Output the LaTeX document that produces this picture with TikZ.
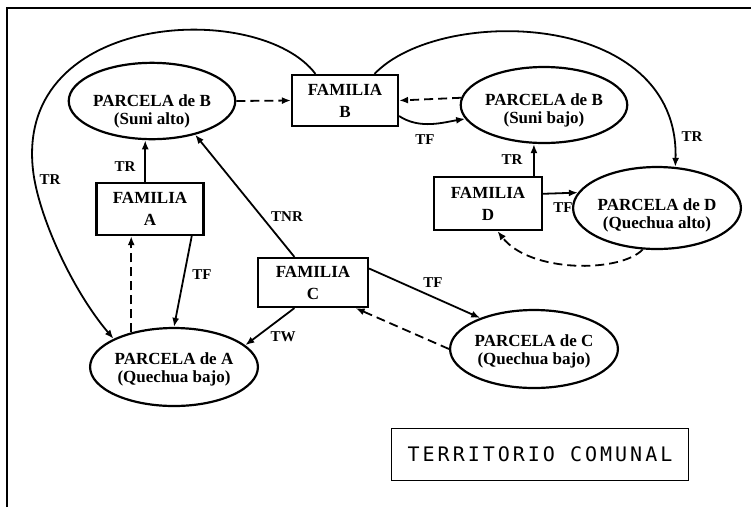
\documentclass[tikz,border=0pt]{standalone}
\usepackage{fontspec}
\setmainfont{Liberation Serif}
\newfontfamily\monofont[LetterSpace=15]{DejaVu Sans Mono}
\usetikzlibrary{shapes.geometric,arrows.meta}

\begin{document}
\begin{tikzpicture}[x=1pt,y=-1pt,line width=1.8pt,
  fam/.style={draw,line width=2.2pt,rectangle,minimum width=107pt,minimum height=52pt,inner sep=0pt,align=center,font=\bfseries\fontsize{17}{22}\selectfont},
  par/.style={draw,line width=2.2pt,ellipse,minimum width=158pt,minimum height=78pt,inner sep=0pt,align=center,text height=34pt,text depth=4pt,font=\bfseries\fontsize{17}{18}\selectfont},
  lab/.style={inner sep=1pt,font=\bfseries\fontsize{15}{15}\selectfont},
  arr/.style={-{Latex[length=9pt,width=7pt]}},
  dsh/.style={arr,dash pattern=on 9pt off 5pt}]
\useasboundingbox (0,0) rectangle (751,507);
\draw[line width=1.5pt] (7,507) -- (7,8) -- (751,8);

\node[par,minimum width=159pt,minimum height=72pt,text height=50pt] at (152,101) (pBa) {PARCELA de B\\(Suni alto)};
\node[fam,minimum width=106pt,minimum height=51pt] at (345,100.5) (fB) {FAMILIA\\B};
\node[par,minimum width=148pt,minimum height=76pt,text height=40pt] at (544,105) (pBb) {PARCELA de B\\(Suni bajo)};
\node[fam] at (150,209) (fA) {FAMILIA\\A};
\node[fam,minimum width=108pt,minimum height=53pt] at (488,203.5) (fD) {FAMILIA\\D};
\node[par,minimum width=160pt,minimum height=82pt,text height=44pt] at (657,208) (pD) {PARCELA de D\\(Quechua alto)};
\node[fam,minimum width=110pt,minimum height=49pt] at (313,282.5) (fC) {FAMILIA\\C};
\node[par] at (174,367) (pA) {PARCELA de A\\(Quechua bajo)};
\node[par] at (534,349) (pC) {PARCELA de C\\(Quechua bajo)};
\node[draw,line width=1pt,minimum width=297pt,minimum height=52pt,font=\monofont\fontsize{20}{20}\selectfont] at (540,454) (tc) {TERRITORIO COMUNAL};

\draw[arr] (fB.138) .. controls (260,0) and (15,10) .. (33,170) .. controls (38,215) and (72,290) .. (pA.155);
\draw[arr] (fB.42) .. controls (440,5) and (680,10) .. (pD.66);
\draw[dsh] (pBa.east) -- (fB.west);
\draw[dsh] (pBb.175) -- (fB.east);
\draw[arr] (fB.-16) .. controls (420,130) and (445,122) .. (pBb.190);
\draw[arr] (fA.100) -- (fA.100 |- pBa.south);
\draw[dsh] (pA.141) -- (pA.141 |- fA.south);
\draw[arr] (fA.-33) -- (pA.north);
\draw[arr] (fC.126) -- (pBa.-38);
\draw[arr] (fC.-126) -- (pA.17);
\draw[arr] (fC.14) -- (pC.150);
\draw[dsh] (pC.west) -- (fC.-31);
\draw[arr] (fD.31) -- (fD.31 |- pBb.south);
\draw[arr] (fD.10) -- (pD.169);
\draw[dsh] (pD.-109) .. controls (620,273) and (530,273) .. (fD.-71);

\node[lab] at (50,180) (l1) {TR};
\node[lab] at (125,167) (l2) {TR};
\node[lab] at (287,217) (l3) {TNR};
\node[lab] at (202,275) (l4) {TF};
\node[lab] at (283,337) (l5) {TW};
\node[lab] at (433,283) (l6) {TF};
\node[lab] at (425,140) (l7) {TF};
\node[lab] at (512,160) (l8) {TR};
\node[lab] at (563,208) (l9) {TF};
\node[lab] at (692,137) (l10) {TR};
\end{tikzpicture}
\end{document}
